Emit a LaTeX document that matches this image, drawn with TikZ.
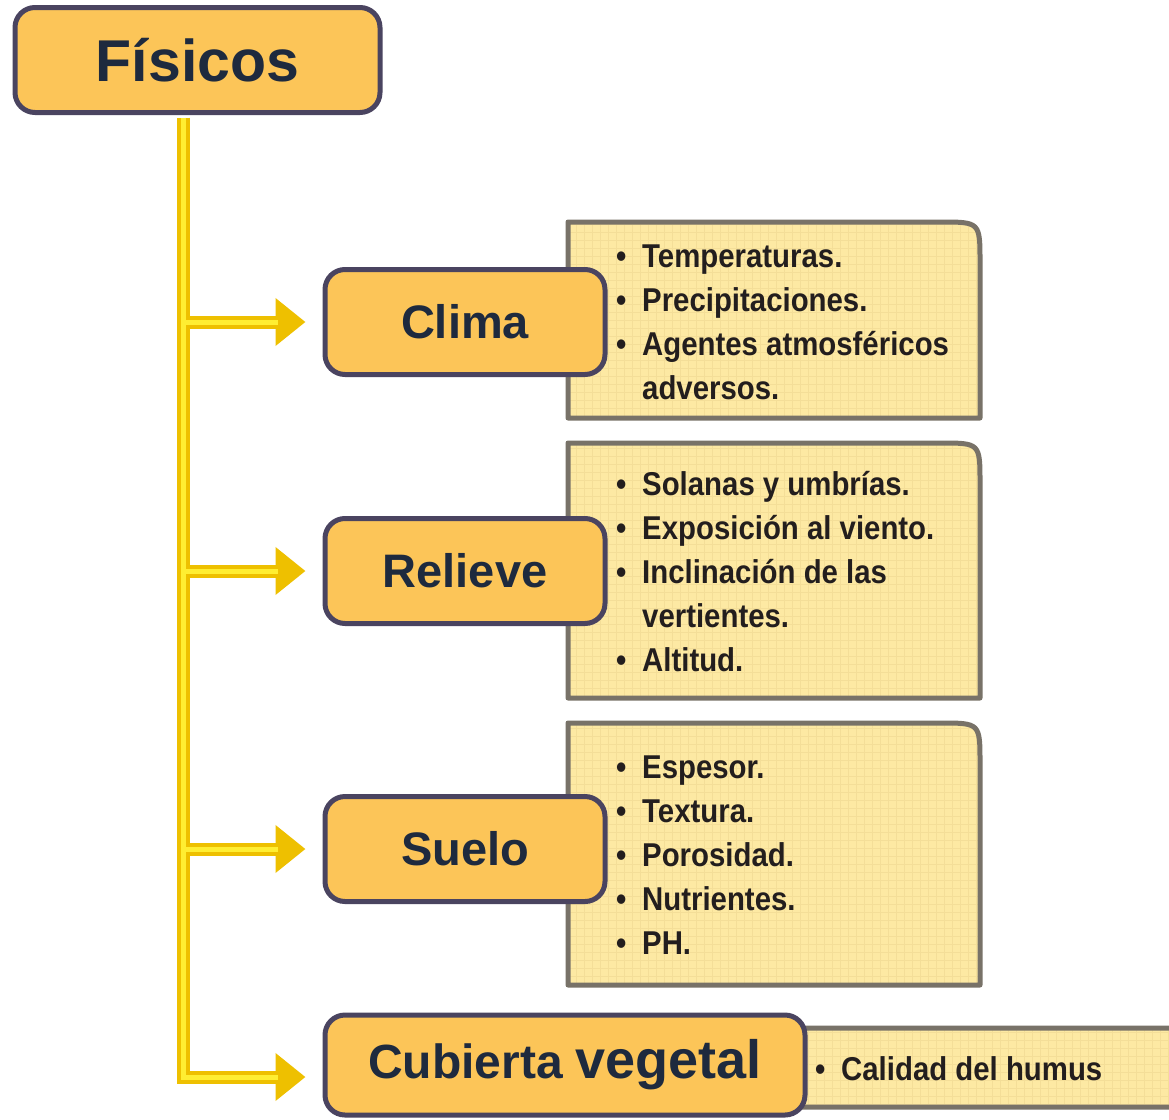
\documentclass[tikz,border=0pt]{standalone}
\usepackage{fontspec}
\setmainfont{Liberation Sans}
\newfontfamily\notefont[FakeStretch=0.89]{Liberation Sans}
\usetikzlibrary{arrows.meta}

\definecolor{headfill}{RGB}{252,197,88}
\definecolor{headline}{RGB}{74,68,96}
\definecolor{headtext}{RGB}{30,42,62}
\definecolor{notefill}{RGB}{253,233,163}
\definecolor{notegridc}{RGB}{244,222,152}
\definecolor{noteline}{RGB}{120,114,104}
\definecolor{notetext}{RGB}{35,30,30}
\definecolor{stemgold}{RGB}{238,192,0}
\definecolor{stemlight}{RGB}{255,238,50}

% folded note: x1, y1 (top), x2, y2 (bottom)
\newcommand{\notebox}[4]{%
   \begin{scope}
      \clip (#1,#4) -- (#1,#2) -- (#3-40,#2) .. controls (#3,#2) .. (#3,#2+40) -- (#3,#4) -- cycle;
      \fill[notefill] (#1,#2) rectangle (#3,#4);
      \draw[notegrid] (#1,#2) grid (#3,#4);
   \end{scope}
   \draw[noteborder] (#1,#4) -- (#1,#2) -- (#3-40,#2) .. controls (#3,#2) .. (#3,#2+40) -- (#3,#4) -- cycle;}
\newcommand{\itm}{\makebox[26pt][l]{\textbullet}}
\newcommand{\gap}{\hspace*{26pt}}
\newcommand{\lead}{\rule{0pt}{32pt}}

\begin{document}
\begin{tikzpicture}[x=1pt,y=-1pt,
   partbox/.style={draw=headline, line width=5pt, fill=headfill, rounded corners=20pt,
      text=headtext, inner sep=0pt, minimum width=280pt, minimum height=105pt,
      font=\fontsize{47}{56}\bfseries\selectfont},
   notetxt/.style={anchor=north west, inner sep=0pt, align=left, text=notetext,
      font=\notefont\fontsize{33}{44}\bfseries\selectfont},
   notegrid/.style={draw=notegridc, line width=0.5pt, step=8pt},
   noteborder/.style={draw=noteline, line width=5pt, line join=round},
   stemline/.style={draw=stemgold, line width=13pt},
   stemhi/.style={draw=stemlight, line width=5pt, shorten >=45pt},
   arrowtip/.style={-{Triangle[length=30pt,width=46pt]}, shorten >=17pt}]
   \fill[white] (0,0) rectangle (1169,1119);
   \useasboundingbox (0,0) rectangle (1169,1119);

   % notes
   \notebox{568}{222}{980}{418}
   \notebox{568}{443}{980}{698}
   \notebox{568}{723}{980}{985}
   \notebox{795}{1028}{1240}{1107}
   \node[notetxt] (tclima) at (616,235) {\lead\itm Temperaturas.\\ \itm Precipitaciones.\\
      \itm Agentes atmosféricos\\ \gap adversos.};
   \node[notetxt] (trelieve) at (616,463) {\lead\itm Solanas y umbrías.\\ \itm Exposición al viento.\\
      \itm Inclinación de las\\ \gap vertientes.\\ \itm Altitud.};
   \node[notetxt] (tsuelo) at (616,746) {\lead\itm Espesor.\\ \itm Textura.\\ \itm Porosidad.\\
      \itm Nutrientes.\\ \itm PH.};
   \node[notetxt] (tcubierta) at (815,1048) {\lead\itm Calidad del humus};

   % boxes
   \node[partbox, minimum width=365pt, font=\fontsize{59}{70}\bfseries\selectfont] (fisicos) at (197.5,60) {Físicos};
   \node[partbox] (clima) at (465,322) {Clima};
   \node[partbox] (relieve) at (465,571) {Relieve};
   \node[partbox] (suelo) at (465,849) {Suelo};
   \node[partbox, minimum width=480pt, minimum height=100pt] (cubierta) at (565,1065)
      {{\fontsize{48}{56}\bfseries\selectfont Cubierta} {\fontsize{54}{56}\bfseries\selectfont vegetal}};

   % connectors
   \coordinate (stemtop) at ([xshift=-14pt,yshift=-2.5pt]fisicos.south);
   \coordinate (stemend) at ([yshift=-12pt]cubierta.west);
   \foreach \part in {clima,relieve,suelo}
      \draw[stemline,arrowtip] (stemtop |- \part.west) -- (\part.west);
   \draw[stemline,arrowtip] (stemtop) |- (stemend);
   \foreach \part in {clima,relieve,suelo}
      \draw[stemhi] (stemtop |- \part.west) -- (\part.west);
   \draw[stemhi] (stemtop) |- (stemend);
\end{tikzpicture}
\end{document}
